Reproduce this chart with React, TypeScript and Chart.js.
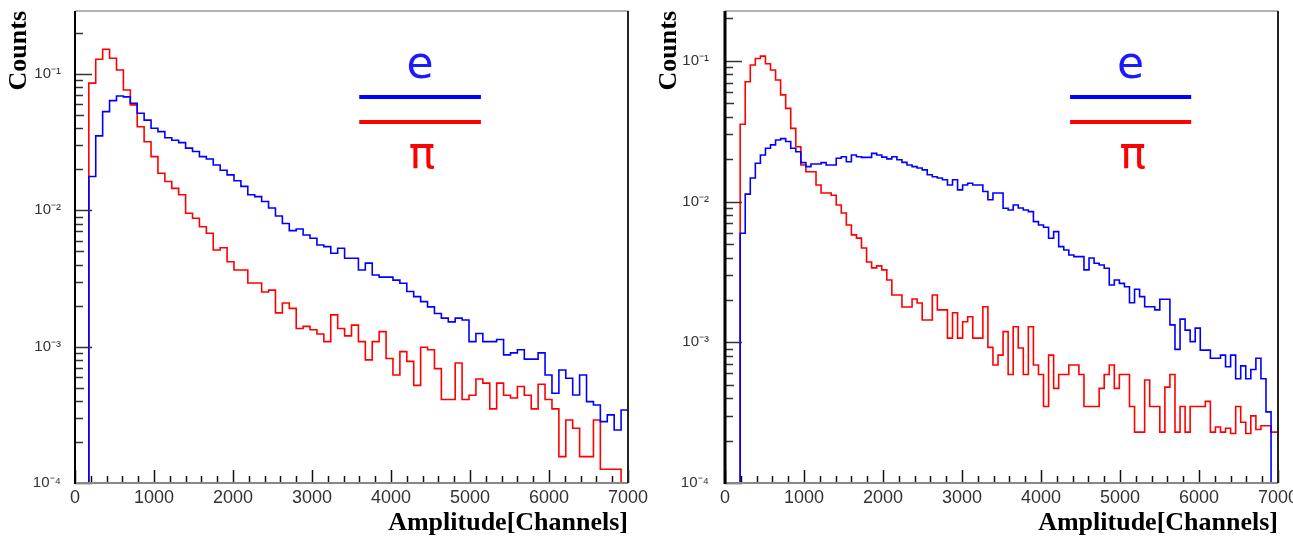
import React, { useEffect, useRef } from 'react';
import { Chart, registerables } from 'chart.js';

Chart.register(...registerables);

// ---------- data ----------
const X_MIN = 0;
const X_MAX = 7000;
const X_MAJOR_TICKS = [0, 1000, 2000, 3000, 4000, 5000, 6000, 7000];
const X_MINOR_STEP = 200;

const Y_MIN = 1e-4;
const Y_DECADES = [1e-4, 1e-3, 1e-2, 1e-1];
const Y_DECADE_LABELS = ['10⁻⁴', '10⁻³', '10⁻²', '10⁻¹'];
const LEFT_Y_MAX = 0.29;
const RIGHT_Y_MAX = 0.226;

const X_TITLE = 'Amplitude[Channels]';
const Y_TITLE = 'Counts';
const LEGEND_E = 'e';
const LEGEND_PI = 'π';

// left panel: 80 bins of 87.5 channels
const LEFT_BIN_WIDTH = 87.5;
const LEFT_E = [
  0, 0, 0.0177, 0.0352, 0.053, 0.0638, 0.069, 0.068, 0.0611, 0.0515,
  0.0459, 0.04, 0.0378, 0.0341, 0.0327, 0.0314, 0.0286, 0.027, 0.0248, 0.0238,
  0.0215, 0.0197, 0.0182, 0.0165, 0.015, 0.013, 0.0126, 0.0116, 0.0104, 0.0091,
  0.008, 0.0071, 0.0073, 0.0066, 0.00624, 0.00557, 0.00542, 0.00484, 0.00527, 0.00445,
  0.00445, 0.00365, 0.0041, 0.00336, 0.00324, 0.00324, 0.00308, 0.00292, 0.00254, 0.00233,
  0.00214, 0.00196, 0.00175, 0.00162, 0.00152, 0.00162, 0.00157, 0.00109, 0.00125, 0.00109,
  0.00109, 0.00113, 0.00087, 0.0009, 0.00095, 0.00081, 0.00081, 0.0009, 0.00062, 0.000455,
  0.000675, 0.000586, 0.000442, 0.00062, 0.000395, 0.000373, 0.000282, 0.000316, 0.000245, 0.000343,
];
const LEFT_PI = [
  0, 0, 0.0857, 0.1285, 0.152, 0.1306, 0.107, 0.0763, 0.0594, 0.0411,
  0.0319, 0.0248, 0.0187, 0.0163, 0.0145, 0.013, 0.00953, 0.00875, 0.00759, 0.00679,
  0.00512, 0.00532, 0.0042, 0.00365, 0.00365, 0.00293, 0.00293, 0.00252, 0.0026, 0.00177,
  0.00209, 0.00191, 0.00136, 0.00141, 0.00133, 0.00124, 0.00109, 0.00171, 0.00136, 0.0012,
  0.00144, 0.00109, 0.0008, 0.00109, 0.00129, 0.00082, 0.00062, 0.00092, 0.00078, 0.00052,
  0.00099, 0.00095, 0.00069, 0.00041, 0.00041, 0.00076, 0.00041, 0.00044, 0.00058, 0.00054,
  0.00035, 0.00054, 0.00044, 0.00042, 0.00051, 0.00044, 0.00035, 0.00053, 0.00041, 0.00035,
  0.000156, 0.00029, 0.000252, 0.000156, 0.000156, 0.00029, 0.000126, 0.000126, 0.000126, 0,
];

// right panel: 110 bins of 64 channels
const RIGHT_BIN_WIDTH = 64;
const RIGHT_E = [
  0, 0, 0, 0.00596, 0.0113, 0.0147, 0.0187, 0.0214, 0.0239, 0.0253,
  0.0274, 0.028, 0.0267, 0.0239, 0.0226, 0.0189, 0.0177, 0.0185, 0.0185, 0.0189,
  0.0182, 0.0182, 0.0203, 0.0208, 0.0192, 0.0214, 0.0208, 0.0206, 0.0206, 0.022,
  0.0214, 0.0207, 0.0201, 0.0208, 0.0198, 0.019, 0.0182, 0.0177, 0.0173, 0.0168,
  0.0155, 0.015, 0.0147, 0.0143, 0.0131, 0.0143, 0.0121, 0.0131, 0.0135, 0.0131,
  0.0131, 0.0118, 0.0103, 0.0115, 0.0115, 0.00896, 0.0087, 0.00946, 0.009, 0.0087,
  0.00848, 0.0072, 0.00682, 0.00656, 0.00548, 0.00611, 0.00478, 0.00453, 0.00417, 0.00406,
  0.00406, 0.00327, 0.00397, 0.00364, 0.00354, 0.00336, 0.00255, 0.00277, 0.00262, 0.00248,
  0.00191, 0.00238, 0.00211, 0.00179, 0.00179, 0.0017, 0.00202, 0.00202, 0.00133, 0.00089,
  0.00146, 0.00122, 0.00101, 0.00126, 0.00088, 0.00088, 0.00077, 0.00077, 0.00081, 0.00067,
  0.00081, 0.00055, 0.00068, 0.00055, 0.00064, 0.00077, 0.00055, 0.00032, 0, 0,
];
const RIGHT_PI = [
  0, 0, 0, 0.0354, 0.0711, 0.0935, 0.104, 0.108, 0.0953, 0.0861,
  0.0731, 0.0573, 0.0459, 0.0331, 0.0245, 0.0182, 0.0163, 0.0163, 0.0131, 0.0115,
  0.0115, 0.0111, 0.00946, 0.0083, 0.00682, 0.0058, 0.0055, 0.00468, 0.00372, 0.00338,
  0.00349, 0.00327, 0.00277, 0.00217, 0.00217, 0.00178, 0.00178, 0.00203, 0.0019, 0.00144,
  0.00144, 0.00217, 0.0017, 0.0017, 0.00107, 0.00162, 0.00107, 0.0014, 0.00152, 0.00107,
  0.00107, 0.00179, 0.00092, 0.00069, 0.00081, 0.00119, 0.00059, 0.00129, 0.00091, 0.00059,
  0.00129, 0.00069, 0.00059, 0.00035, 0.00081, 0.00047, 0.00059, 0.00059, 0.00069, 0.00069,
  0.00059, 0.00035, 0.00035, 0.00035, 0.00047, 0.00059, 0.00069, 0.00047, 0.00059, 0.00059,
  0.00035, 0.00023, 0.00023, 0.00054, 0.00035, 0.00035, 0.00023, 0.00048, 0.00059, 0.00023,
  0.00035, 0.00023, 0.00035, 0.00035, 0.00035, 0.00038, 0.00023, 0.00025, 0.00023, 0.000245,
  0.000225, 0.00035, 0.00027, 0.000225, 0.0003, 0.00024, 0.000255, 0.000255, 0.00023, 0.00023,
];

const BLUE = '#0000ff';
const RED = '#ff0000';

// histogram outline: one point per bin lower edge, stepped drawing
function toSteps(values: number[], binWidth: number) {
  const pts = values.map((v, i) => ({ x: i * binWidth, y: v > 0 ? v : Y_MIN }));
  pts.push({ x: values.length * binWidth, y: Y_MIN });
  return pts;
}

const rootFramePlugin = {
  id: 'rootFrame',
  afterDatasetsDraw(chart: any, _args: any, opts: any) {
    const { ctx, chartArea: a } = chart;
    const x = chart.scales.x;
    const y = chart.scales.y;
    ctx.save();
    // y ticks (inside)
    ctx.strokeStyle = '#333';
    ctx.lineWidth = 1.5;
    for (let e = -4; e <= 0; e++) {
      for (let m = 1; m <= 9; m++) {
        const v = m * Math.pow(10, e);
        if (v < y.min * 0.9999 || v > y.max) continue;
        const py = Math.round(y.getPixelForValue(v)) + 0.5;
        const len = m === 1 ? 17 : m === 5 ? 9 : 8;
        ctx.beginPath();
        ctx.moveTo(a.left, py);
        ctx.lineTo(a.left + len, py);
        ctx.stroke();
      }
    }
    // x ticks (inside)
    ctx.strokeStyle = '#111';
    for (let v = X_MIN; v <= X_MAX; v += X_MINOR_STEP) {
      const px = Math.round(x.getPixelForValue(v)) + 0.5;
      const len = v % 1000 === 0 ? 13 : 7;
      ctx.beginPath();
      ctx.moveTo(px, a.bottom);
      ctx.lineTo(px, a.bottom - len);
      ctx.stroke();
    }
    // frame
    ctx.lineWidth = 1.5;
    ctx.strokeStyle = '#999';
    ctx.beginPath();
    ctx.moveTo(a.left, a.top);
    ctx.lineTo(a.right, a.top);
    ctx.stroke();
    ctx.strokeStyle = '#888';
    ctx.lineWidth = 2;
    ctx.beginPath();
    ctx.moveTo(a.left, a.bottom);
    ctx.lineTo(a.right, a.bottom);
    ctx.stroke();
    ctx.strokeStyle = '#222';
    ctx.lineWidth = 2;
    ctx.beginPath();
    ctx.moveTo(a.right, a.top);
    ctx.lineTo(a.right, a.bottom);
    ctx.stroke();
    ctx.strokeStyle = '#000';
    ctx.lineWidth = opts.leftAxisWidth || 2;
    ctx.beginPath();
    ctx.moveTo(a.left, a.top);
    ctx.lineTo(a.left, a.bottom + 1);
    ctx.stroke();

    // e / pi key
    const w = a.right - a.left;
    const x0 = a.left + opts.keyFrom * w;
    const x1 = a.left + opts.keyTo * w;
    const cx = (x0 + x1) / 2;
    ctx.lineWidth = 4;
    ctx.strokeStyle = BLUE;
    ctx.beginPath();
    ctx.moveTo(x0, a.top + 86);
    ctx.lineTo(x1, a.top + 86);
    ctx.stroke();
    ctx.strokeStyle = RED;
    ctx.beginPath();
    ctx.moveTo(x0, a.top + 111);
    ctx.lineTo(x1, a.top + 111);
    ctx.stroke();
    ctx.font = '44px "DejaVu Sans"';
    ctx.textAlign = 'center';
    ctx.textBaseline = 'alphabetic';
    ctx.fillStyle = '#1a1aff';
    ctx.fillText(LEGEND_E, cx, a.top + 67);
    ctx.fillStyle = RED;
    ctx.fillText(LEGEND_PI, cx + 2, a.top + 157);
    ctx.restore();
  },
};

interface PanelProps {
  left: number;
  width: number;
  yAxisWidth: number;
  padRight: number;
  yMax: number;
  binWidth: number;
  e: number[];
  pi: number[];
  keyFrom: number;
  keyTo: number;
  titlePad: number;
  labelPad: number;
  leftAxisWidth: number;
}

function Panel(p: PanelProps) {
  const ref = useRef<HTMLCanvasElement>(null);
  useEffect(() => {
    if (!ref.current) return;
    const chart = new Chart(ref.current, {
      type: 'line',
      data: {
        datasets: [
          {
            label: LEGEND_E,
            data: toSteps(p.e, p.binWidth),
            borderColor: BLUE,
            borderWidth: 1.6,
            pointRadius: 0,
            fill: false,
            stepped: true,
          } as any,
          {
            label: LEGEND_PI,
            data: toSteps(p.pi, p.binWidth),
            borderColor: RED,
            borderWidth: 1.6,
            pointRadius: 0,
            fill: false,
            stepped: true,
          } as any,
        ],
      },
      options: {
        responsive: false,
        animation: false,
        events: [],
        layout: { padding: { top: 11, right: p.padRight, bottom: 0, left: 0 } },
        plugins: {
          legend: { display: false },
          tooltip: { enabled: false },
          rootFrame: { keyFrom: p.keyFrom, keyTo: p.keyTo, leftAxisWidth: p.leftAxisWidth },
        } as any,
        scales: {
          x: {
            type: 'linear',
            min: X_MIN,
            max: X_MAX,
            grid: { display: false, drawTicks: false },
            border: { display: false },
            ticks: {
              autoSkip: false,
              maxRotation: 0,
              padding: 4,
              color: '#333',
              font: { family: 'Liberation Sans', size: 18 },
              callback: (v: any) => String(v),
            },
            afterBuildTicks: (s: any) => {
              s.ticks = X_MAJOR_TICKS.map((v) => ({ value: v }));
            },
            title: {
              display: true,
              text: X_TITLE,
              align: 'end',
              color: '#000',
              font: { family: 'Liberation Serif', size: 26, weight: 'bold' },
              padding: { top: 0, bottom: 0 },
            },
            afterFit: (s: any) => {
              s.height = 56;
              s.paddingLeft = 0;
              s.paddingRight = 0;
            },
          },
          y: {
            type: 'logarithmic',
            min: Y_MIN,
            max: p.yMax,
            grid: { display: false, drawTicks: false },
            border: { display: false },
            ticks: {
              autoSkip: false,
              padding: p.labelPad,
              color: '#333',
              font: { family: 'Liberation Sans', size: 15 },
              callback: (v: any) => {
                const i = Y_DECADES.findIndex((d) => Math.abs(d - v) / d < 1e-6);
                return i >= 0 ? Y_DECADE_LABELS[i] : '';
              },
            },
            afterBuildTicks: (s: any) => {
              s.ticks = Y_DECADES.map((v) => ({ value: v }));
            },
            title: {
              display: true,
              text: Y_TITLE,
              align: 'end',
              color: '#000',
              font: { family: 'Liberation Serif', size: 26, weight: 'bold' },
              padding: { top: p.titlePad, bottom: 0 },
            },
            afterFit: (s: any) => {
              s.width = p.yAxisWidth;
              s.paddingTop = 0;
              s.paddingBottom = 0;
            },
          },
        } as any,
      },
      plugins: [rootFramePlugin as any],
    });
    return () => chart.destroy();
  }, []);
  return (
    <canvas
      ref={ref}
      width={p.width}
      height={539}
      style={{ position: 'absolute', left: p.left, top: 0, display: 'block' }}
    />
  );
}

export default function App() {
  return (
    <div style={{ position: 'fixed', left: 0, top: 0, width: 1293, height: 539, background: '#fff' }}>
      <Panel
        left={0}
        width={660}
        yAxisWidth={75}
        padRight={32}
        yMax={LEFT_Y_MAX}
        binWidth={LEFT_BIN_WIDTH}
        e={LEFT_E}
        pi={LEFT_PI}
        keyFrom={0.514}
        keyTo={0.734}
        titlePad={4}
        labelPad={14}
        leftAxisWidth={2}
      />
      <Panel
        left={646}
        width={647}
        yAxisWidth={79}
        padRight={15}
        yMax={RIGHT_Y_MAX}
        binWidth={RIGHT_BIN_WIDTH}
        e={RIGHT_E}
        pi={RIGHT_PI}
        keyFrom={0.624}
        keyTo={0.843}
        titlePad={8}
        labelPad={16}
        leftAxisWidth={3}
      />
    </div>
  );
}
